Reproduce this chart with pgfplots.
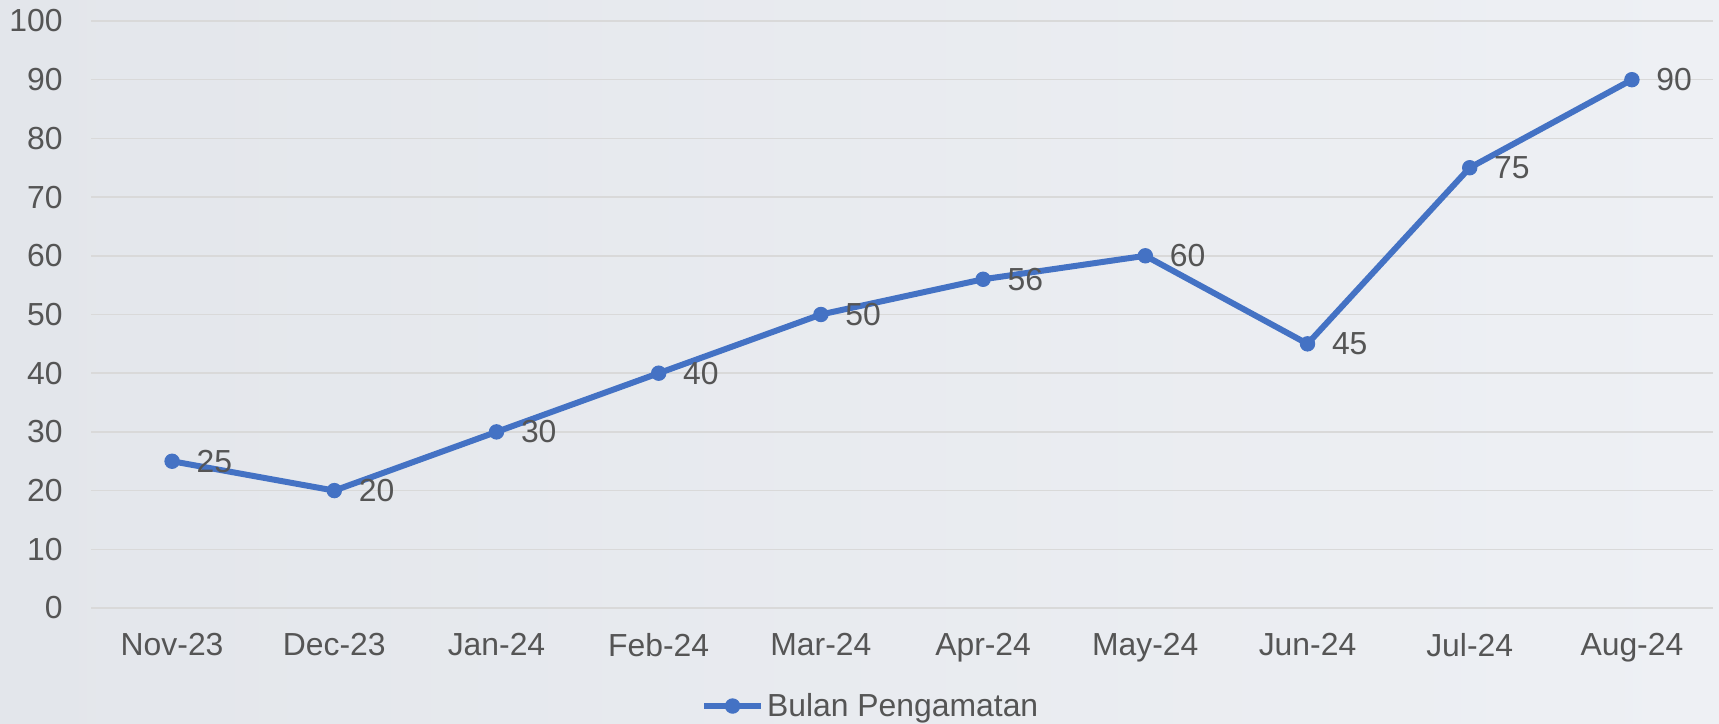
\documentclass[border=0pt]{standalone}
\usepackage{fontspec}
\setmainfont{Liberation Sans}
\usepackage{pgfplots}
\pgfplotsset{compat=1.18}
\definecolor{series}{HTML}{4472C4}
\definecolor{txt}{HTML}{555555}
\definecolor{gridc}{HTML}{D9D9D9}
\definecolor{bgl}{HTML}{E3E6EB}
\definecolor{bgr}{HTML}{EEF0F4}
\newcommand{\chartfont}{\fontsize{16}{19}\selectfont}
\begin{document}
\begin{tikzpicture}
\shade[left color=bgl,right color=bgr] (0bp,0bp) rectangle (859.5bp,362bp);
\begin{axis}[at={(45.5bp,58bp)},anchor=south west,scale only axis,
 width=811bp,height=293.5bp,
 xmin=-0.5,xmax=9.5,ymin=0,ymax=100,
 xtick={0,...,9},
 xticklabels={Nov-23,Dec-23,Jan-24,Feb-24,Mar-24,Apr-24,May-24,Jun-24,Jul-24,Aug-24},
 ytick={0,10,...,100},
 axis line style={draw=none},major tick length=0pt,
 ymajorgrids=true,grid style={gridc,line width=0.75bp},
 /pgf/number format/assume math mode=true,
 tick label style={font=\chartfont,text=txt},
 yticklabel style={inner sep=0pt,xshift=-14bp},
 xticklabel style={inner sep=0pt,yshift=-12.5bp},
 legend style={at={(0.481,-0.167)},anchor=center,draw=none,fill=none,
  font=\chartfont,text=txt,nodes={inner sep=1.5bp}},
 legend cell align=left,
 legend image code/.code={\draw[mark repeat=2,mark phase=2,#1]
  plot coordinates {(0bp,0bp)(14.25bp,0bp)(28.5bp,0bp)};},
]
\addplot[series,line width=3bp,mark=*,mark size=3.6bp,
 mark options={line width=0.5bp,fill=series},
 nodes near coords,
 nodes near coords style={anchor=west,inner sep=0pt,xshift=12bp,
  font=\chartfont,text=txt}]
 coordinates {(0,25) (1,20) (2,30) (3,40) (4,50) (5,56) (6,60) (7,45) (8,75) (9,90)};
\addlegendentry{Bulan Pengamatan}
\end{axis}
\pgfresetboundingbox
\useasboundingbox (0bp,0bp) rectangle (859.5bp,362bp);
\end{tikzpicture}
\end{document}
